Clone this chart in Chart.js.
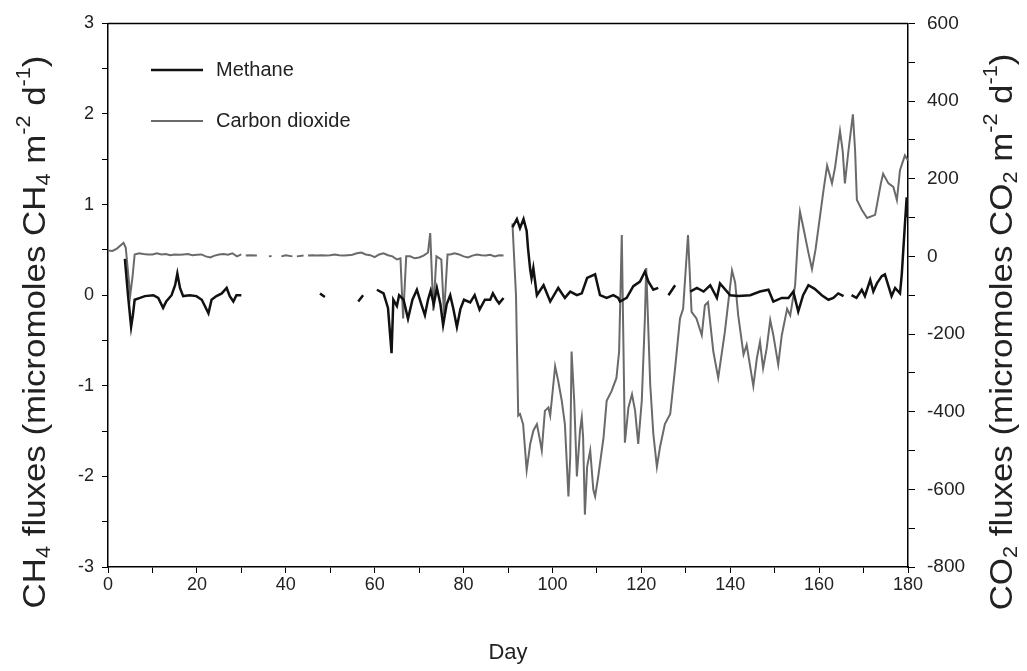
<!DOCTYPE html>
<html>
<head>
<meta charset="utf-8">
<script src="https://cdn.jsdelivr.net/npm/chart.js@4.4.1/dist/chart.umd.min.js"></script>
<style>
  html, body { margin: 0; padding: 0; background: #ffffff; }
  #wrap { width: 1027px; height: 671px; }
</style>
</head>
<body>
<div id="wrap"><canvas id="c" width="1027" height="671"></canvas></div>
<script>
// ---------- DATA ----------
const xTickLabels = [0, 20, 40, 60, 80, 100, 120, 140, 160, 180];
const ch4TickLabels = [-3, -2, -1, 0, 1, 2, 3];
const co2TickLabels = [-800, -600, -400, -200, 0, 200, 400, 600];

const seriesNames = ["Methane", "Carbon dioxide"];

// Methane (CH4) flux, left axis; null = gap in record
const methaneDays = [3.8,4.5,5.2,5.6,6,7.2,8.3,10.2,11.3,12.4,13.1,14.3,15.1,15.6,16.2,16.9,18.4,19.9,21.1,22.6,23.3,24.4,25.6,26.7,27.4,28.2,28.9,30,30.5,
  47.7,48.8,49,56.3,57.4,58,
  60.5,62,63,63.8,64.2,65,65.5,66.5,67.5,68.5,69.5,70.5,71.3,72,72.6,73.3,74,74.8,75.4,76.2,77,77.7,78.5,79.3,80.1,81.5,82.5,83.6,84.8,86,86.6,87.4,88,89,90,
  91,92,92.7,93.5,94.2,94.5,95,95.3,95.7,96.5,98,99.5,101.3,102.8,104,105.5,106.6,107.8,109.6,110.7,112.2,113.7,114.8,115.2,116.7,118.2,119.7,120.8,121.6,122.7,123.8,124.5,
  126.1,127.6,128,
  131,132.5,134,135.5,137,137.7,140,141.8,144.5,146.7,148.6,149.7,151.6,153.1,154.2,155.3,156.4,157.6,159,160.6,162.1,163.2,164.3,165.5,166.3,
  167.3,168.4,169.6,170.3,171.5,172.2,173,174.1,174.8,176.3,177.1,178.2,178.6,179.3,179.7,180];
const methaneValues = [0.4,0.0,-0.35,-0.22,-0.05,-0.03,-0.01,0.0,-0.03,-0.14,-0.07,0.0,0.11,0.24,0.08,-0.01,0.0,-0.01,-0.05,-0.2,-0.05,-0.01,0.02,0.08,-0.01,-0.07,0.0,0.0,null,
  0.02,-0.02,null,-0.07,0.0,null,
  0.06,0.02,-0.14,-0.64,-0.05,-0.12,0.0,-0.05,-0.26,-0.05,0.06,-0.1,-0.22,-0.05,0.05,-0.1,0.08,-0.1,-0.33,-0.1,0.0,-0.15,-0.35,-0.15,-0.05,-0.08,0.0,-0.16,-0.05,-0.05,0.02,-0.05,-0.09,-0.03,null,
  0.75,0.84,0.74,0.84,0.71,0.52,0.28,0.19,0.3,0.0,0.11,-0.07,0.08,-0.03,0.04,0.0,0.02,0.19,0.23,0.0,-0.03,0.0,-0.03,-0.07,-0.03,0.1,0.15,0.26,0.15,0.06,0.08,null,
  0.0,0.11,null,
  0.04,0.08,0.04,0.11,-0.03,0.13,0.0,-0.01,0.0,0.04,0.06,-0.07,-0.03,-0.03,0.04,-0.18,0.0,0.11,0.07,0.0,-0.05,-0.03,0.02,-0.01,null,
  0.0,-0.03,0.06,-0.01,0.17,0.04,0.13,0.21,0.23,-0.01,0.08,0.02,0.23,0.78,1.08,0.86];

// Carbon dioxide (CO2) flux, right axis; null = gap in record
const co2Days = [0,1,2,3,3.5,4,4.5,5,5.5,6,7,8,9,10,11,12,13,14,15,16,17,18,19,20,21,22,23,24,25,26,27,28,29,30,30.5,
  31,32,33.5,34,36.2,36.8,37,39,40,41.5,42,42.5,44,44.5,
  45,46,47,48,49,50,51,52,53,54,55,56,57,58,59,60,61,62,63,64,65,65.8,66.4,67.1,68,69,70,71,72,72.5,73.2,73.9,75,75.6,76.4,77,78,79,80,81,82,83,84,85,86,87,88,89,90,
  91,91.8,92.3,92.7,93.4,94.2,95.0,95.7,96.5,97.2,97.6,98.3,99.1,99.5,100.2,100.6,101.3,102.1,102.8,103.6,104,104.3,104.9,105.5,106.2,106.6,106.9,107.3,107.8,108.5,109.2,109.6,110.3,111.5,112.2,113.3,114.4,115,115.6,116.3,117.1,117.9,118.6,119.3,120.1,120.8,121.1,122,122.7,123.5,124.2,125.3,126.5,127.6,128.7,129.4,130.5,131.3,132.4,133.6,134.3,135,136.2,137.3,138.8,140.4,141.1,141.8,143,143.7,145.2,146,146.7,147.4,148.2,149,149.7,150.8,151.6,152.8,153.5,154.6,155.3,155.7,156.4,157.6,158.4,159.2,160.2,161,161.8,162.9,163.6,164.7,165.3,165.8,166.6,167.6,168.1,168.5,169.6,170.8,172.6,173.9,174.4,175.6,176.7,177.5,178.2,179.3,180];
const co2Values = [15,14,20,30,35,22,-40,-100,-55,5,8,6,5,5,8,5,6,3,5,4,5,6,3,4,5,0,-3,2,5,6,4,8,0,5,null,
  2,3,2,null,0,1,null,0,3,0,null,0,2,null,
  2,3,2,3,2,3,5,3,2,3,4,8,10,5,3,-2,5,8,3,0,-8,-5,-160,0,0,-5,-3,2,10,60,-140,0,-8,-150,5,5,8,5,0,-3,2,5,3,2,4,0,3,2,null,
  85,-100,-410,-406,-432,-551,-483,-449,-432,-474,-500,-398,-389,-410,-330,-283,-321,-372,-432,-618,-517,-245,-372,-567,-449,-415,-466,-665,-542,-500,-601,-618,-567,-466,-372,-347,-313,-245,55,-480,-389,-355,-398,-483,-372,-160,-30,-330,-457,-542,-491,-432,-406,-288,-160,-135,55,-143,-160,-203,-126,-118,-245,-313,-194,-36,-67,-152,-253,-228,-334,-262,-220,-288,-237,-164,-203,-279,-203,-135,-152,-75,60,115,77,9,-33,18,103,171,234,188,230,323,272,188,272,366,272,145,120,99,107,188,213,188,179,145,222,260,247];

// ---------- CHART ----------
const FONT = '"Liberation Sans", Arial, sans-serif';
const toPoints = (xs, ys) => xs.map((d, i) => ({ x: d, y: ys[i] }));

const richTitles = {
  left: [{t: 'CH'}, {t: '4', s: 'sub'}, {t: ' fluxes (micromoles CH'}, {t: '4', s: 'sub'}, {t: ' m'}, {t: '-2', s: 'sup'}, {t: ' d'}, {t: '-1', s: 'sup'}, {t: ')'}],
  right: [{t: 'CO'}, {t: '2', s: 'sub'}, {t: ' fluxes (micromoles CO'}, {t: '2', s: 'sub'}, {t: ' m'}, {t: '-2', s: 'sup'}, {t: ' d'}, {t: '-1', s: 'sup'}, {t: ')'}]
};

function drawRich(ctx, parts, size) {
  let total = 0;
  parts.forEach(p => {
    ctx.font = (p.s ? size * 0.62 : size) + 'px ' + FONT;
    p.w = ctx.measureText(p.t).width;
    total += p.w;
  });
  let x = -total / 2;
  parts.forEach(p => {
    ctx.font = (p.s ? size * 0.62 : size) + 'px ' + FONT;
    const dy = p.s === 'sub' ? size * 0.28 : (p.s === 'sup' ? -size * 0.36 : 0);
    ctx.fillText(p.t, x, dy);
    x += p.w;
  });
}

const decorPlugin = {
  id: 'decor',
  afterDraw(chart) {
    const ctx = chart.ctx;
    const a = chart.chartArea;
    ctx.save();
    // top frame line
    ctx.strokeStyle = '#000';
    ctx.lineWidth = 1.5;
    ctx.beginPath();
    ctx.moveTo(a.left, a.top);
    ctx.lineTo(a.right, a.top);
    ctx.stroke();

    // axis titles (rotated, reading bottom to top)
    ctx.fillStyle = '#222';
    ctx.textBaseline = 'middle';
    ctx.textAlign = 'left';
    ctx.save();
    ctx.translate(36, 332);
    ctx.rotate(-Math.PI / 2);
    ctx.scale(1.09, 1);
    drawRich(ctx, richTitles.left, 32);
    ctx.restore();
    ctx.save();
    ctx.translate(1003, 332);
    ctx.rotate(-Math.PI / 2);
    ctx.scale(1.09, 1);
    drawRich(ctx, richTitles.right, 32);
    ctx.restore();

    // legend inside plot
    const rows = [{y: 70}, {y: 121}];
    chart.data.datasets.forEach((ds, i) => {
      const y = rows[i].y;
      ctx.strokeStyle = ds.borderColor;
      ctx.lineWidth = ds.borderWidth;
      ctx.beginPath();
      ctx.moveTo(151, y);
      ctx.lineTo(203, y);
      ctx.stroke();
      ctx.fillStyle = '#222';
      ctx.font = '20px ' + FONT;
      ctx.textBaseline = 'middle';
      ctx.fillText(ds.label, 216, y);
    });
    ctx.restore();
  }
};

new Chart(document.getElementById('c'), {
  type: 'line',
  data: {
    datasets: [
      {
        label: seriesNames[0],
        data: toPoints(methaneDays, methaneValues),
        yAxisID: 'y',
        borderColor: '#111111',
        borderWidth: 2.5,
        pointRadius: 0,
        tension: 0,
        spanGaps: false,
        order: 1
      },
      {
        label: seriesNames[1],
        data: toPoints(co2Days, co2Values),
        yAxisID: 'y1',
        borderColor: '#6a6a6a',
        borderWidth: 2,
        pointRadius: 0,
        tension: 0,
        spanGaps: false,
        order: 2
      }
    ]
  },
  options: {
    responsive: false,
    animation: false,
    devicePixelRatio: 1,
    layout: { padding: { top: 18, left: 0, right: 0, bottom: 0 } },
    plugins: { legend: { display: false }, tooltip: { enabled: false } },
    scales: {
      x: {
        type: 'linear',
        min: 0, max: 180,
        afterFit: s => { s.height = 671 - 567; },
        ticks: {
          stepSize: 10,
          autoSkip: false,
          maxRotation: 0,
          padding: 1,
          color: '#222',
          font: { family: FONT, size: 18 },
          callback: v => xTickLabels.includes(v) ? String(v) : ''
        },
        grid: { display: true, drawOnChartArea: false, drawTicks: true, tickLength: 6, color: '#000' },
        border: { display: true, color: '#000', width: 1.5 },
        title: { display: true, text: 'Day', color: '#222', font: { family: FONT, size: 22 }, padding: { top: 0, bottom: 5 } }
      },
      y: {
        type: 'linear',
        position: 'left',
        min: -3, max: 3,
        afterFit: s => { s.width = 108; },
        ticks: {
          stepSize: 0.5,
          autoSkip: false,
          padding: 8,
          color: '#222',
          font: { family: FONT, size: 18 },
          callback: v => ch4TickLabels.includes(v) ? String(v) : ''
        },
        grid: { display: true, drawOnChartArea: false, drawTicks: true, tickLength: 6, color: '#000' },
        border: { display: true, color: '#000', width: 1.5 },
        title: { display: false, text: 'CH\u2084 fluxes (micromoles CH\u2084 m\u207B\u00B2 d\u207B\u00B9)' }
      },
      y1: {
        type: 'linear',
        position: 'right',
        min: -800, max: 600,
        afterFit: s => { s.width = 1027 - 908; },
        ticks: {
          stepSize: 100,
          autoSkip: false,
          padding: 12,
          color: '#222',
          font: { family: FONT, size: 19 },
          callback: v => co2TickLabels.includes(v) ? String(v) : ''
        },
        grid: { display: true, drawOnChartArea: false, drawTicks: true, tickLength: 7, color: '#000' },
        border: { display: true, color: '#000', width: 1.5 },
        title: { display: false, text: 'CO\u2082 fluxes (micromoles CO\u2082 m\u207B\u00B2 d\u207B\u00B9)' }
      }
    }
  },
  plugins: [decorPlugin]
});
</script>
</body>
</html>
